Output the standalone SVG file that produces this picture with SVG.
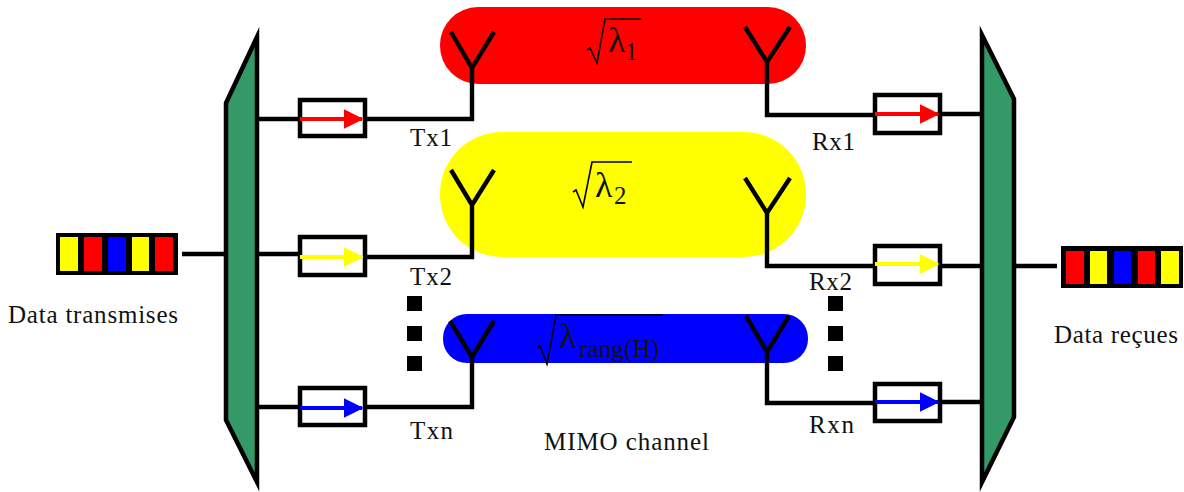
<svg xmlns="http://www.w3.org/2000/svg" width="1184" height="492" viewBox="0 0 1184 492">
<style>
.w{fill:none;stroke:#000;stroke-width:4.4;stroke-linejoin:miter}
.trap{fill:#339966;stroke:#000;stroke-width:4.5;stroke-miterlimit:10}
.box{fill:#fff;stroke:#000;stroke-width:4.5}
.rad{fill:none;stroke:#000;stroke-width:1.6}
.t{font-family:"Liberation Serif",serif;font-size:25px;fill:#111}
.m{font-family:"Liberation Serif",serif;fill:#111}
.sq{fill:#000}
.r{fill:#ff0000}.y{fill:#ffff00}.b{fill:#0000ff}
</style>
<defs>
<marker id="mr" markerWidth="5" markerHeight="5" refX="4.6" refY="2.5" orient="auto" markerUnits="strokeWidth"><path d="M0 0L5 2.5L0 5Z" fill="#ff0000"/></marker>
<marker id="my" markerWidth="5" markerHeight="5" refX="4.6" refY="2.5" orient="auto" markerUnits="strokeWidth"><path d="M0 0L5 2.5L0 5Z" fill="#ffff00"/></marker>
<marker id="mb" markerWidth="5" markerHeight="5" refX="4.6" refY="2.5" orient="auto" markerUnits="strokeWidth"><path d="M0 0L5 2.5L0 5Z" fill="#0000ff"/></marker>
</defs>
<rect width="1184" height="492" fill="#fff"/>
<g id="channel-1"><rect class="r" x="440" y="7" width="366" height="77" rx="38" ry="38"/>
<path class="rad" d="M587 50L590 48L597 63L605 19H642"/><text class="m" x="608" y="52" font-size="36">λ</text><text class="m" x="625" y="60" font-size="25">1</text></g>
<g id="channel-2"><rect class="y" x="440" y="132" width="366" height="125" rx="62" ry="62"/>
<path class="rad" d="M573 192L576 190L583 207L592 162H632"/><text class="m" x="595" y="197" font-size="36">λ</text><text class="m" x="614" y="204" font-size="25">2</text></g>
<g id="channel-n"><rect class="b" x="443" y="314" width="365" height="49" rx="24" ry="24"/>
<path class="rad" d="M537 348L540 346L547 364L556 315H663"/><text class="m" x="559" y="348" font-size="36">λ</text><text class="m" x="579" y="357" font-size="25" textLength="80">rang(H)</text></g>
<g id="connectors">
<path class="w" d="M182 254H224M1016 266H1057"/>
<path class="w" d="M258 119H299M365 119H472V68M451 32L472 68L494 32"/>
<path class="w" d="M258 254H299M365 257H472V205M451 170L472 205L494 170"/>
<path class="w" d="M258 407H299M365 407H472V357M450 321L472 357L494 321"/>
<path class="w" d="M745 27L767 62L790 27M767 62V115H874M940 114H982"/>
<path class="w" d="M745 178L767 213L790 178M767 213V266H874M940 266H982"/>
<path class="w" d="M746 316L767 352L789 316M767 352V403H874M940 402H982"/>
</g>
<g id="mux"><path class="trap" d="M257 37V482L226 420V103Z"/></g>
<g id="demux"><path class="trap" d="M982 35V482L1014 417V99Z"/></g>
<g id="tx-box-1"><rect class="box" x="300" y="100" width="65" height="36"/><path d="M300 119H362" stroke="#ff0000" stroke-width="4" marker-end="url(#mr)"/></g>
<g id="tx-box-2"><rect class="box" x="300" y="237" width="65" height="38"/><path d="M300 257H362" stroke="#ffff00" stroke-width="4" marker-end="url(#my)"/></g>
<g id="tx-box-n"><rect class="box" x="300" y="388" width="65" height="37"/><path d="M300 408H362" stroke="#0000ff" stroke-width="4" marker-end="url(#mb)"/></g>
<g id="rx-box-1"><rect class="box" x="875" y="95" width="65" height="38"/><path d="M875 114H938" stroke="#ff0000" stroke-width="4" marker-end="url(#mr)"/></g>
<g id="rx-box-2"><rect class="box" x="875" y="246" width="65" height="38"/><path d="M875 264H938" stroke="#ffff00" stroke-width="4" marker-end="url(#my)"/></g>
<g id="rx-box-n"><rect class="box" x="875" y="384" width="65" height="37"/><path d="M875 402H938" stroke="#0000ff" stroke-width="4" marker-end="url(#mb)"/></g>
<g id="data-in">
<rect x="56" y="233" width="122" height="42" fill="#000"/>
<rect class="y" x="60" y="237" width="18" height="34"/><rect class="r" x="84" y="237" width="18" height="34"/><rect class="b" x="108" y="237" width="18" height="34"/><rect class="y" x="132" y="237" width="17" height="34"/><rect class="r" x="155" y="237" width="18" height="34"/>
</g>
<g id="data-out">
<rect x="1061" y="246" width="122" height="42" fill="#000"/>
<rect class="r" x="1066" y="251" width="18" height="33"/><rect class="y" x="1090" y="251" width="17" height="33"/><rect class="b" x="1114" y="251" width="17" height="33"/><rect class="r" x="1138" y="251" width="17" height="33"/><rect class="y" x="1161" y="251" width="18" height="33"/>
</g>
<g id="dots-left"><rect class="sq" x="407" y="296" width="15" height="15"/><rect class="sq" x="407" y="326" width="15" height="15"/><rect class="sq" x="407" y="356" width="15" height="15"/></g>
<g id="dots-right"><rect class="sq" x="828" y="296" width="15" height="15"/><rect class="sq" x="828" y="326" width="15" height="15"/><rect class="sq" x="828" y="356" width="15" height="15"/></g>
<g id="labels">
<text class="t" x="8" y="323" textLength="170">Data transmises</text>
<text class="t" x="1054" y="343" textLength="124">Data reçues</text>
<text class="t" x="410" y="146" textLength="42">Tx1</text>
<text class="t" x="812" y="150" textLength="43">Rx1</text>
<text class="t" x="410" y="285" textLength="42">Tx2</text>
<text class="t" x="809" y="290" textLength="43">Rx2</text>
<text class="t" x="410" y="439" textLength="43">Txn</text>
<text class="t" x="809" y="433" textLength="45">Rxn</text>
<text class="t" x="544" y="450" textLength="165">MIMO channel</text>
</g>
</svg>
